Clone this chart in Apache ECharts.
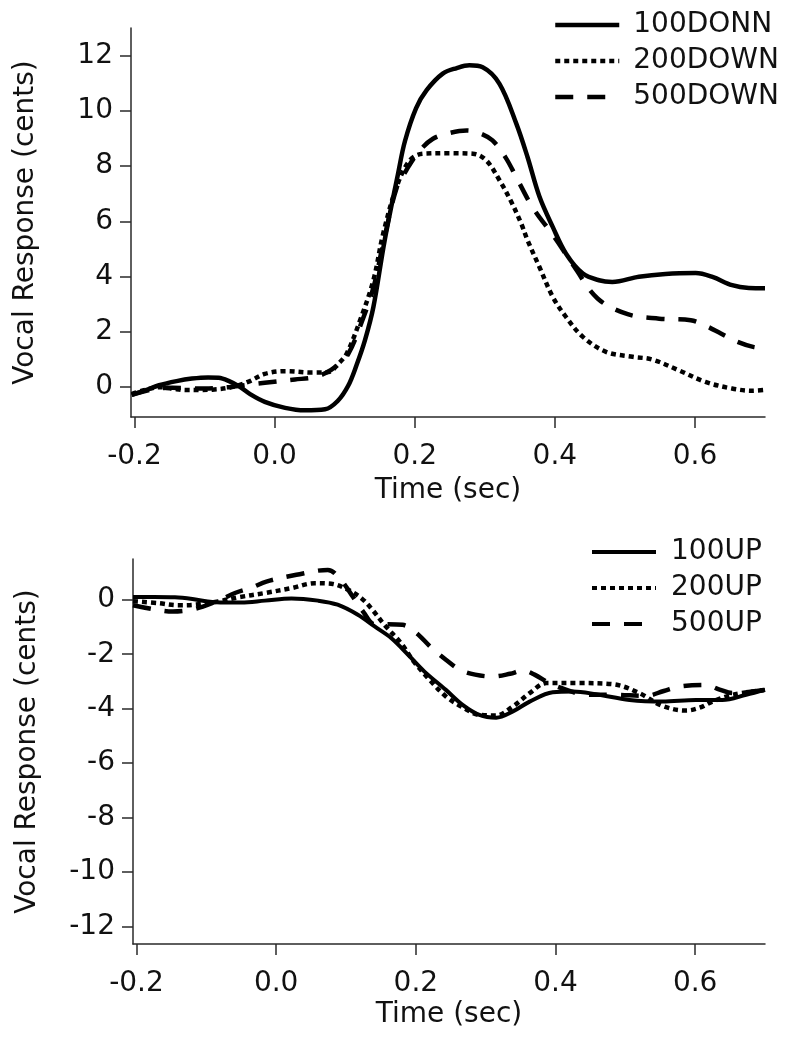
<!DOCTYPE html>
<html>
<head>
<meta charset="utf-8">
<script src="https://cdn.jsdelivr.net/npm/echarts@6/dist/echarts.min.js"></script>
<style>
  html, body { margin: 0; padding: 0; background: #fff; }
  #chart { width: 785px; height: 1050px; }
</style>
</head>
<body>
<div id="chart"></div>
<script>
// ---- tick values ----
const xTicks = [-0.2, 0.0, 0.2, 0.4, 0.6];
const yTicksTop = [0, 2, 4, 6, 8, 10, 12];
const yTicksBottom = [-12, -10, -8, -6, -4, -2, 0];

// ---- series names ----
const namesTop = ['100DONN', '200DOWN', '500DOWN'];
const namesBottom = ['100UP', '200UP', '500UP'];

// ---- top panel: [time (sec), response (cents)] ----
const down100 = [[-0.204,-0.28],[-0.185,-0.12],[-0.165,0.07],[-0.14,0.22],[-0.118,0.31],[-0.095,0.35],[-0.08,0.34],[-0.065,0.22],[-0.05,0.02],[-0.035,-0.25],[-0.014,-0.53],[0.015,-0.75],[0.043,-0.84],[0.072,-0.8],[0.09,-0.5],[0.105,0.05],[0.117,0.8],[0.129,1.7],[0.141,2.9],[0.157,5.3],[0.176,7.7],[0.186,8.9],[0.202,10.1],[0.217,10.75],[0.24,11.35],[0.26,11.55],[0.278,11.65],[0.297,11.58],[0.321,10.98],[0.345,9.54],[0.361,8.33],[0.378,6.9],[0.397,5.8],[0.416,4.83],[0.44,4.11],[0.463,3.87],[0.482,3.81],[0.52,4.0],[0.558,4.1],[0.601,4.13],[0.625,3.99],[0.653,3.69],[0.677,3.59],[0.7,3.58]];
const down200 = [[-0.204,-0.25],[-0.185,-0.1],[-0.165,0.0],[-0.145,-0.06],[-0.127,-0.1],[-0.105,-0.1],[-0.089,-0.09],[-0.061,0.0],[-0.037,0.2],[-0.014,0.48],[0.015,0.58],[0.053,0.53],[0.077,0.55],[0.091,0.85],[0.103,1.22],[0.122,2.42],[0.141,3.87],[0.155,5.56],[0.174,7.24],[0.193,8.21],[0.212,8.45],[0.25,8.47],[0.283,8.45],[0.302,8.21],[0.321,7.49],[0.338,6.7],[0.352,5.92],[0.361,5.32],[0.378,4.35],[0.397,3.27],[0.416,2.54],[0.44,1.82],[0.473,1.28],[0.511,1.1],[0.539,1.0],[0.577,0.61],[0.615,0.19],[0.653,-0.05],[0.682,-0.13],[0.7,-0.1]];
const down500 = [[-0.204,-0.28],[-0.175,-0.08],[-0.146,-0.02],[-0.12,-0.04],[-0.099,-0.05],[-0.065,0.0],[-0.04,0.08],[-0.014,0.16],[0.029,0.28],[0.055,0.35],[0.072,0.5],[0.09,0.8],[0.105,1.2],[0.122,2.2],[0.141,3.6],[0.155,5.2],[0.174,7.2],[0.188,7.85],[0.205,8.5],[0.226,8.99],[0.25,9.2],[0.274,9.29],[0.292,9.2],[0.311,8.93],[0.33,8.3],[0.345,7.6],[0.368,6.52],[0.399,5.44],[0.428,4.35],[0.461,3.21],[0.504,2.64],[0.549,2.48],[0.594,2.42],[0.617,2.2],[0.637,1.94],[0.66,1.65],[0.683,1.46],[0.7,1.42]];

// ---- bottom panel ----
const up100 = [[-0.205,0.1],[-0.175,0.1],[-0.145,0.09],[-0.12,0.03],[-0.098,-0.06],[-0.075,-0.1],[-0.05,-0.1],[-0.016,-0.03],[0.022,0.05],[0.06,-0.03],[0.088,-0.18],[0.117,-0.55],[0.141,-0.98],[0.165,-1.41],[0.189,-2.02],[0.212,-2.63],[0.243,-3.31],[0.267,-3.86],[0.291,-4.23],[0.315,-4.33],[0.339,-4.1],[0.363,-3.74],[0.396,-3.4],[0.425,-3.37],[0.458,-3.47],[0.506,-3.68],[0.553,-3.74],[0.601,-3.68],[0.639,-3.68],[0.673,-3.49],[0.7,-3.31]];
const up200 = [[-0.205,-0.05],[-0.169,-0.12],[-0.14,-0.2],[-0.117,-0.18],[-0.083,-0.06],[-0.055,0.09],[-0.016,0.25],[0.022,0.43],[0.055,0.61],[0.079,0.59],[0.103,0.37],[0.122,0.06],[0.136,-0.31],[0.155,-0.92],[0.179,-1.6],[0.198,-2.3],[0.22,-2.95],[0.243,-3.55],[0.267,-3.95],[0.291,-4.23],[0.315,-4.25],[0.339,-3.92],[0.363,-3.43],[0.387,-3.06],[0.434,-3.06],[0.482,-3.1],[0.52,-3.43],[0.553,-3.9],[0.587,-4.07],[0.606,-3.97],[0.625,-3.74],[0.654,-3.49],[0.7,-3.31]];
const up500 = [[-0.205,-0.2],[-0.175,-0.35],[-0.148,-0.43],[-0.125,-0.38],[-0.105,-0.25],[-0.08,0.0],[-0.059,0.25],[-0.035,0.45],[-0.014,0.67],[0.029,0.92],[0.074,1.1],[0.092,0.75],[0.108,0.18],[0.125,-0.45],[0.141,-0.9],[0.16,-0.9],[0.181,-0.92],[0.2,-1.2],[0.222,-1.75],[0.243,-2.2],[0.263,-2.57],[0.285,-2.75],[0.31,-2.82],[0.335,-2.72],[0.353,-2.6],[0.37,-2.75],[0.391,-3.06],[0.415,-3.3],[0.444,-3.49],[0.482,-3.49],[0.53,-3.53],[0.555,-3.35],[0.577,-3.19],[0.615,-3.13],[0.635,-3.3],[0.654,-3.43],[0.7,-3.31]];

const FONT = 'DejaVu Sans';
const TXT = '#111';
const AX = '#2a2a2a';

function xAxisCfg(gridIndex, nameGap) {
  return {
    type: 'value', gridIndex: gridIndex, min: -0.205, max: 0.7,
    name: 'Time (sec)', nameLocation: 'middle', nameGap: nameGap,
    nameTextStyle: { fontFamily: FONT, fontSize: 28, color: TXT },
    axisLine: { show: true, onZero: false, lineStyle: { color: AX, width: 1.5 } },
    axisTick: { show: true, length: 11, customValues: xTicks, lineStyle: { color: AX, width: 1.5 } },
    axisLabel: { customValues: xTicks, margin: 26, fontFamily: FONT, fontSize: 28, color: TXT,
                 formatter: v => v.toFixed(1) },
    splitLine: { show: false }
  };
}
function yAxisCfg(gridIndex, min, max, ticks) {
  return {
    type: 'value', gridIndex: gridIndex, min: min, max: max,
    name: 'Vocal Response (cents)', nameLocation: 'middle', nameGap: 91, nameRotate: 90,
    nameTextStyle: { fontFamily: FONT, fontSize: 28, color: TXT },
    axisLine: { show: true, onZero: false, lineStyle: { color: AX, width: 1.5 } },
    axisTick: { show: true, length: 11, customValues: ticks, lineStyle: { color: AX, width: 1.5 } },
    axisLabel: { customValues: ticks, margin: 18, fontFamily: FONT, fontSize: 28, color: TXT },
    splitLine: { show: false }
  };
}
const SOLID = 'solid', DOTTED = [5, 4], DASHED = [18, 14];
function lineSeries(name, data, idx, type, width) {
  return {
    name: name, type: 'line', data: data, xAxisIndex: idx, yAxisIndex: idx,
    symbol: 'none', smooth: 0.35, animation: false,
    itemStyle: { color: '#000' },
    lineStyle: { color: '#000', width: width, type: type, cap: 'butt', join: 'round' }
  };
}
function legendCfg(names, left, top, gap, lw, padLeft) {
  return {
    data: names, orient: 'vertical', left: left, top: top, padding: 0,
    itemWidth: 64, itemHeight: 14, itemGap: gap, selectedMode: false,
    itemStyle: { opacity: 0 },
    lineStyle: { width: lw, color: '#000' },
    textStyle: { fontFamily: FONT, fontSize: 28, color: TXT, padding: [0, 0, 0, padLeft] }
  };
}

const chart = echarts.init(document.getElementById('chart'), null, { renderer: 'canvas' });
chart.setOption({
  backgroundColor: '#fff',
  animation: false,
  grid: [
    { left: 131, right: 20, top: 28, height: 389 },
    { left: 133, right: 20, top: 559, height: 385 }
  ],
  xAxis: [xAxisCfg(0, 60), xAxisCfg(1, 57)],
  yAxis: [yAxisCfg(0, -1.08, 13, yTicksTop), yAxisCfg(1, -12.65, 1.5, yTicksBottom)],
  legend: [
    legendCfg(namesTop, 553, 11, 8, 4.5, 9),
    legendCfg(namesBottom, 590, 538, 8, 4, 10)
  ],
  series: [
    lineSeries(namesTop[0], down100, 0, SOLID, 4.5),
    lineSeries(namesTop[1], down200, 0, DOTTED, 4.5),
    lineSeries(namesTop[2], down500, 0, DASHED, 4.5),
    lineSeries(namesBottom[0], up100, 1, SOLID, 4),
    lineSeries(namesBottom[1], up200, 1, DOTTED, 4.5),
    lineSeries(namesBottom[2], up500, 1, DASHED, 4.5)
  ]
});
</script>
</body>
</html>
